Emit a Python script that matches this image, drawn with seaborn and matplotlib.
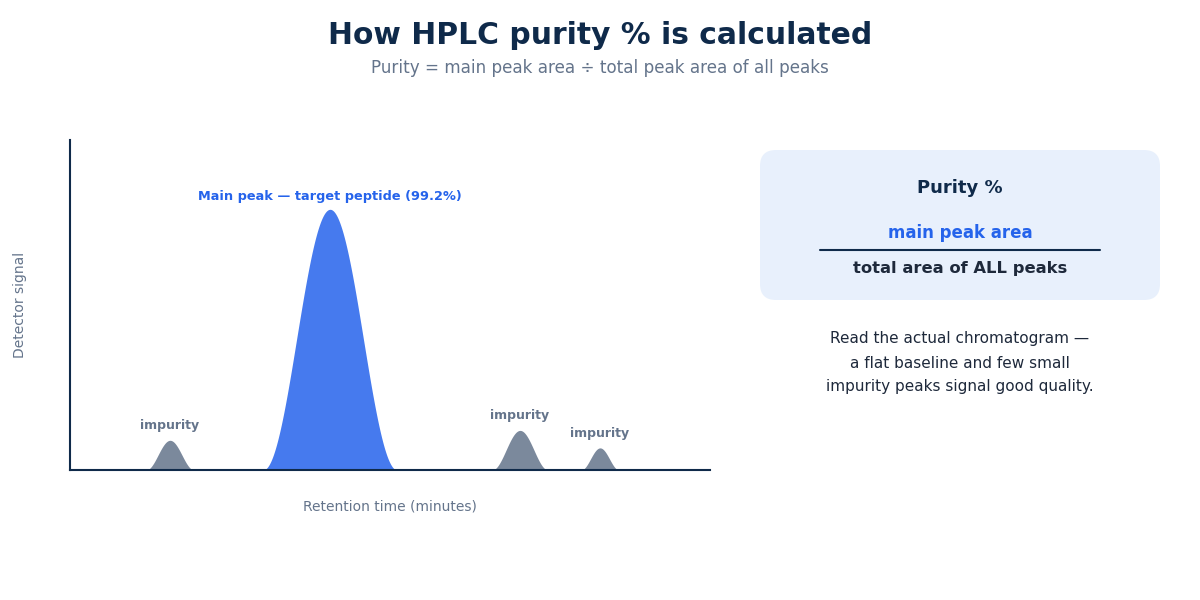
import numpy as np
import pandas as pd
import seaborn as sns
import matplotlib.pyplot as plt
from matplotlib.patches import FancyBboxPatch

# peak data (retention time in minutes, relative signal)
peak_names = ['impurity', 'main', 'impurity', 'impurity']
peak_centers = [5.0, 13.0, 22.5, 26.5]
peak_heights = [0.09, 0.79, 0.12, 0.067]
peak_halfwidths = [1.2, 3.35, 1.4, 0.95]
peak_labels = ['impurity', 'Main peak \u2014 target peptide (99.2%)', 'impurity', 'impurity']

navy = '#0f2a4a'
blue = '#2563eb'
slate = '#64748b'
dark = '#1e293b'

sns.set_theme(style='white')
plt.rcParams['font.family'] = ['DejaVu Sans']

fig = plt.figure(figsize=(12, 6), dpi=100)
ax = fig.add_axes([70 / 1200, 1 - 470 / 600, 640 / 1200, 330 / 600])

# build curve points for every peak (smooth bell shape)
rows = []
for i, (c, h, w) in enumerate(zip(peak_centers, peak_heights, peak_halfwidths)):
    xs = np.linspace(c - w, c + w, 200)
    ys = h * (0.5 + 0.5 * np.cos(np.pi * (xs - c) / w))
    for xv, yv in zip(xs, ys):
        rows.append({'peak': i, 'time': xv, 'signal': yv})
df = pd.DataFrame(rows)

for i, name in enumerate(peak_names):
    sub = df[df['peak'] == i]
    col = blue if name == 'main' else slate
    sns.lineplot(data=sub, x='time', y='signal', ax=ax, color=col, alpha=0.85,
                 linewidth=0, estimator=None, sort=False)
    ax.fill_between(sub['time'], 0, sub['signal'], color=col, alpha=0.85, linewidth=0)
    if name == 'main':
        ax.text(peak_centers[i], peak_heights[i] + 0.04, peak_labels[i], ha='center',
                va='center', fontsize=9.3, fontweight='bold', color=blue)
    else:
        ax.text(peak_centers[i], peak_heights[i] + 0.045, peak_labels[i], ha='center',
                va='center', fontsize=9, fontweight='bold', color=slate)

ax.set_xlim(0, 32)
ax.set_ylim(0, 1.0)
ax.set_xticks([])
ax.set_yticks([])
sns.despine(ax=ax)
for s in ['left', 'bottom']:
    ax.spines[s].set_color(navy)
    ax.spines[s].set_linewidth(1.5)
ax.set_xlabel('Retention time (minutes)', fontsize=10, color=slate, labelpad=21)
ax.set_ylabel('Detector signal', fontsize=10, color=slate, labelpad=31)

# overlay in pixel coordinates for titles and the formula card
ov = fig.add_axes([0, 0, 1, 1])
ov.set_xlim(0, 1200)
ov.set_ylim(600, 0)
ov.axis('off')
ov.patch.set_alpha(0)

ov.text(600, 35, 'How HPLC purity % is calculated', ha='center', va='center',
        fontsize=21.4, fontweight='bold', color=navy)
ov.text(600, 68, 'Purity = main peak area \u00f7 total peak area of all peaks', ha='center',
        va='center', fontsize=12.1, color=slate)

card = FancyBboxPatch((760, 150), 400, 150, boxstyle='round,pad=0,rounding_size=16',
                      facecolor='#e8f0fc', edgecolor='none')
ov.add_patch(card)
ov.text(960, 188, 'Purity %', ha='center', va='center', fontsize=13,
        fontweight='bold', color=navy)
ov.text(960, 233, 'main peak area', ha='center', va='center', fontsize=12,
        fontweight='bold', color=blue)
ov.plot([820, 1100], [250, 250], color=navy, linewidth=1.5)
ov.text(960, 269, 'total area of ALL peaks', ha='center', va='center', fontsize=11.8,
        fontweight='bold', color=dark)

note = ['Read the actual chromatogram \u2014',
        'a flat baseline and few small',
        'impurity peaks signal good quality.']
for k, line in enumerate(note):
    ov.text(960, 339 + 24 * k, line, ha='center', va='center', fontsize=11, color=dark)

fig.savefig('out.png', dpi=100, facecolor='white')
